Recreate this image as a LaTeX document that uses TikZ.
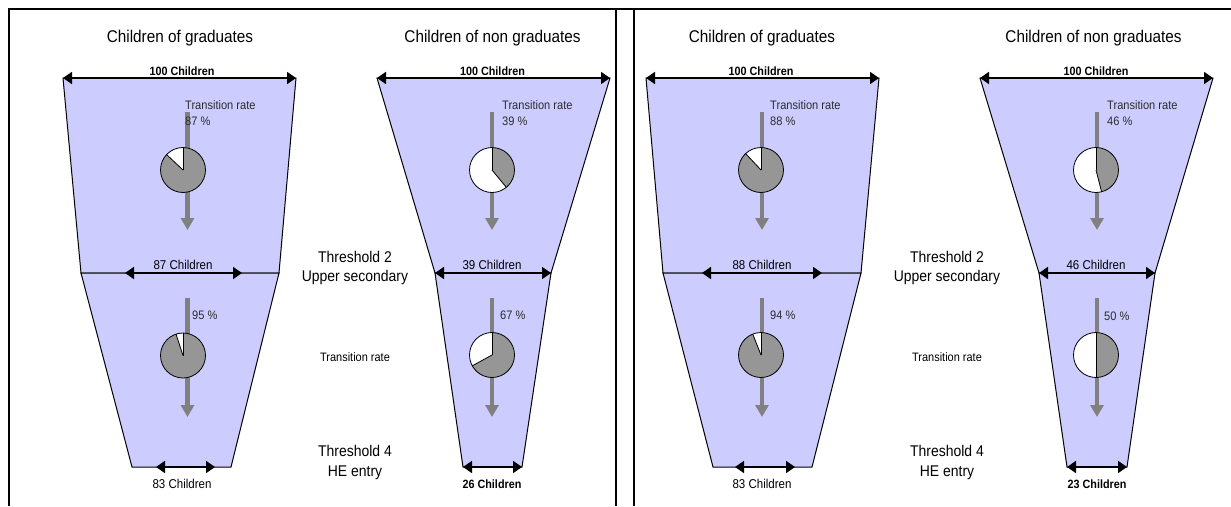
\documentclass[tikz,border=0pt]{standalone}
\usepackage{fontspec}
\setmainfont{Liberation Sans}[FakeStretch=0.9]
\usetikzlibrary{arrows.meta}
\definecolor{funnelfill}{RGB}{204,204,255}
\definecolor{piegray}{RGB}{150,150,150}
\definecolor{arrgray}{RGB}{128,128,128}
\definecolor{txtgray}{RGB}{45,45,45}
\newcommand{\drawfunnel}[7]{%
  \coordinate (#1TL) at (#2,-78); \coordinate (#1TR) at (#3,-78);
  \coordinate (#1ML) at (#4,-273); \coordinate (#1MR) at (#5,-273);
  \coordinate (#1BL) at (#6,-467); \coordinate (#1BR) at (#7,-467);
  \draw[funnelbox] (#1TL) -- (#1TR) -- (#1MR) -- (#1ML) -- cycle;
  \draw[funnelbox] (#1ML) -- (#1MR) -- (#1BR) -- (#1BL) -- cycle;
  \draw[widtharrow] (#1TL) -- (#1TR);
}
\newcommand{\mypie}[2]{%
  \fill[white] (#1) circle[radius=22.5];
  \fill[piegray] (#1) -- ++(90:22.5) arc[start angle=90, delta angle={-360*#2}, radius=22.5] -- cycle;
  \draw[pieline] (#1) circle[radius=22.5];
  \draw[pieline] (#1) -- ++(90:22.5);
  \draw[pieline] (#1) -- ++({90-360*#2}:22.5);
}
\begin{document}
\begin{tikzpicture}[x=1pt,y=1pt,
  frameline/.style={line width=1.5pt},
  funnelbox/.style={fill=funnelfill, draw=black, line width=1pt},
  widtharrow/.style={line width=1.8pt, {Triangle[length=9pt,width=12pt]}-{Triangle[length=9pt,width=12pt]}},
  flowarrow/.style={draw=arrgray, line width=4.5pt, -{Triangle[length=12pt,width=13pt]}},
  pieline/.style={line width=0.8pt},
  title/.style={font=\fontsize{17}{20}\selectfont, inner sep=0},
  count/.style={font=\fontsize{12.8}{15}\selectfont, inner sep=0},
  countb/.style={font=\fontsize{12}{14}\selectfont\bfseries, inner sep=0},
  rate/.style={font=\fontsize{12.3}{14}\selectfont, text=txtgray, anchor=west, inner sep=0},
  side/.style={font=\fontsize{15.5}{18}\selectfont, inner sep=0},
  sidesmall/.style={font=\fontsize{12.2}{14}\selectfont, inner sep=0}
]
\useasboundingbox (0,0) rectangle (1231,-506);
% frame
\coordinate (fBL) at (9,-506); \coordinate (fTL) at (9,-9); \coordinate (fTR) at (1231,-9);
\coordinate (d1t) at (616,-9); \coordinate (d1b) at (616,-506);
\coordinate (d2t) at (634,-9); \coordinate (d2b) at (634,-506);
\draw[frameline] (fBL) -- (fTL) -- (fTR);
\draw[frameline] (d1t) -- (d1b);
\draw[frameline] (d2t) -- (d2b);

% funnels
\drawfunnel{ga}{63}{296}{81}{279}{132}{231}
\drawfunnel{na}{377}{610}{435}{551}{463}{522}
\drawfunnel{gb}{646}{879}{663}{861}{713}{812}
\drawfunnel{nb}{980}{1213}{1039}{1155}{1067}{1127}

% middle and bottom width arrows
\coordinate (gaM1) at (125,-273); \coordinate (gaM2) at (242,-273);
\coordinate (gaB1) at (156,-467); \coordinate (gaB2) at (215,-467);
\coordinate (gbM1) at (702,-273); \coordinate (gbM2) at (822,-273);
\coordinate (gbB1) at (735,-467); \coordinate (gbB2) at (795,-467);
\draw[widtharrow] (gaM1) -- (gaM2);
\draw[widtharrow] (gaB1) -- (gaB2);
\draw[widtharrow] (naML) -- (naMR);
\draw[widtharrow] (naBL) -- (naBR);
\draw[widtharrow] (gbM1) -- (gbM2);
\draw[widtharrow] (gbB1) -- (gbB2);
\draw[widtharrow] (nbML) -- (nbMR);
\draw[widtharrow] (nbBL) -- (nbBR);

% flow arrows
\foreach \n/\x in {ga/187.5, na/492, gb/762, nb/1097}{
  \coordinate (\n s1) at (\x,-112); \coordinate (\n e1) at (\x,-230);
  \coordinate (\n s2) at (\x,-298); \coordinate (\n e2) at (\x,-417);
  \draw[flowarrow] (\n s1) -- (\n e1);
  \draw[flowarrow] (\n s2) -- (\n e2);
}

% pies
\coordinate (gaP1) at (183,-170); \coordinate (gaP2) at (183,-355.5);
\coordinate (naP1) at (492,-170); \coordinate (naP2) at (492,-355);
\coordinate (gbP1) at (761,-170); \coordinate (gbP2) at (761,-355);
\coordinate (nbP1) at (1096,-170); \coordinate (nbP2) at (1096,-355);
\mypie{gaP1}{0.87}
\mypie{gaP2}{0.95}
\mypie{naP1}{0.39}
\mypie{naP2}{0.67}
\mypie{gbP1}{0.88}
\mypie{gbP2}{0.94}
\mypie{nbP1}{0.46}
\mypie{nbP2}{0.50}

% titles
\node[title] (t1) at (180,-38) {Children of graduates};
\node[title] (t2) at (492.5,-38) {Children of non graduates};
\node[title] (t3) at (762,-38) {Children of graduates};
\node[title] (t4) at (1093.5,-38) {Children of non graduates};

% counts
\node[countb] (c1) at (182,-71) {100 Children};
\node[countb] (c2) at (492.5,-71) {100 Children};
\node[countb] (c3) at (761,-71) {100 Children};
\node[countb] (c4) at (1096,-71) {100 Children};
\node[count] (m1) at (183,-265) {87 Children};
\node[count] (m2) at (492,-265) {39 Children};
\node[count] (m3) at (762,-265) {88 Children};
\node[count] (m4) at (1096,-265) {46 Children};
\node[count] (b1) at (182,-484) {83 Children};
\node[countb] (b2) at (492,-484) {26 Children};
\node[count] (b3) at (762,-484) {83 Children};
\node[countb] (b4) at (1097,-484) {23 Children};

% rates
\node[rate] (r1a) at (185,-105) {Transition rate};
\node[rate] (r1b) at (185,-121) {87 \%};
\node[rate] (r2a) at (502,-105) {Transition rate};
\node[rate] (r2b) at (502,-121) {39 \%};
\node[rate] (r3a) at (770,-105) {Transition rate};
\node[rate] (r3b) at (770,-121) {88 \%};
\node[rate] (r4a) at (1107,-105) {Transition rate};
\node[rate] (r4b) at (1107,-121) {46 \%};
\node[rate] (q1) at (192,-315) {95 \%};
\node[rate] (q2) at (500,-315) {67 \%};
\node[rate] (q3) at (770,-315) {94 \%};
\node[rate] (q4) at (1104,-316) {50 \%};

% side labels
\foreach \n/\x in {L/355, R/947}{
  \node[side] (th2\n) at (\x,-257) {Threshold 2};
  \node[side] (us\n) at (\x,-277) {Upper secondary};
  \node[sidesmall] (tr\n) at (\x,-357) {Transition rate};
  \node[side] (th4\n) at (\x,-451) {Threshold 4};
  \node[side] (he\n) at (\x,-473) {HE entry};
}
\end{tikzpicture}
\end{document}
